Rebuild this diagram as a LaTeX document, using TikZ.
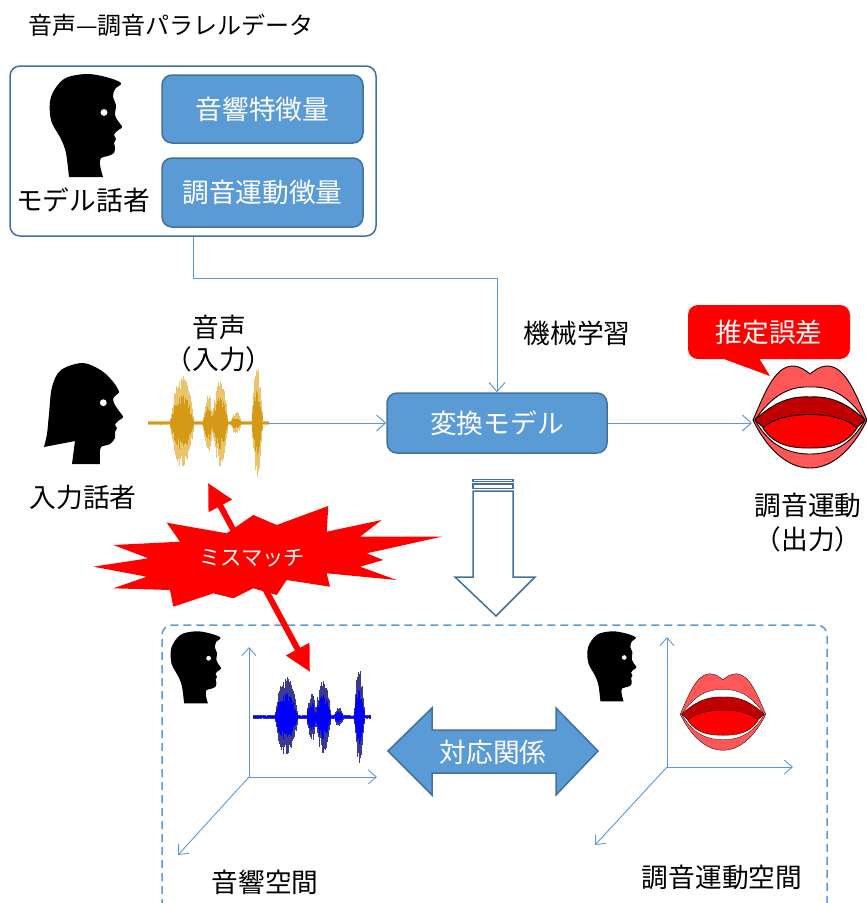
\documentclass[tikz,border=0pt]{standalone}
\usepackage{fontspec}
\newfontfamily\jpfont{Noto Sans CJK JP}
\usetikzlibrary{arrows.meta}

\definecolor{boxfill}{HTML}{5B9BD5}
\definecolor{boxedge}{HTML}{41719C}
\definecolor{linkblue}{HTML}{5B9BD5}
\definecolor{lipred}{HTML}{FF5757}
\definecolor{throat}{HTML}{C00000}
\definecolor{tongue}{HTML}{FF0000}
\definecolor{goldhaze}{HTML}{E9C46C}
\definecolor{goldcore}{HTML}{D49A16}
\definecolor{bluehaze}{HTML}{3A3A8E}
\definecolor{bluecore}{HTML}{0000FF}

% profile of a man facing right, centred on (#1,#2), scaled by #3
\newcommand\manprofile[3]{%
  \begin{scope}[shift={(#1,#2)},scale=#3]
    \fill[black] (-17,52) -- (17,52) -- plot[smooth,tension=0.55] coordinates {
      (17,52) (14,40) (15,33) (22,31) (28,28) (29,22) (28,18) (30,14) (28,10)
      (31,6) (36,2) (32,-4) (29,-10) (30,-20) (27,-28) (29,-36) (35,-42)
      (20,-48) (0,-51) (-22,-46) (-35,-28) (-35,-5) (-25,14) (-20,28) (-17,52)} -- cycle;
    \fill[white] (18,-12.5) circle (3.4);
  \end{scope}}

% profile of a woman facing right, centred on (#1,#2)
\newcommand\womanprofile[2]{%
  \begin{scope}[shift={(#1,#2)}]
    \fill[black] (-12,50) -- (16,50) -- plot[smooth,tension=0.55] coordinates {
      (16,50) (16,40) (17,33) (26,30) (31,24) (31,18) (33,14) (31,11) (34,7)
      (39,3) (35,-3) (31,-9) (29,-15) (32,-19) (35,-22) (30,-31) (18,-43)
      (-1,-51) (-23,-44) (-32,-27) (-35,0) (-37,20) (-40,33)} -- (-9,27) -- (-12,50) -- cycle;
    \fill[white] (19.3,-11.3) circle (3.4);
  \end{scope}}

% open mouth centred on (#1,#2), scaled by #3, outline width #4
\newcommand\openmouth[4]{%
  \begin{scope}[shift={(#1,#2)},scale=#3,line width=#4]
    \filldraw[fill=lipred,draw=black]
      (-57,3) .. controls (-46,-22) and (-36,-50) .. (-18,-51)
      .. controls (-9,-51) and (-4,-46) .. (0,-43)
      .. controls (4,-46) and (9,-51) .. (18,-51)
      .. controls (36,-50) and (46,-22) .. (57,3)
      .. controls (45,28) and (25,51) .. (0,51)
      .. controls (-25,51) and (-45,28) .. (-57,3) -- cycle;
    \filldraw[fill=white,draw=black]
      (-55,3) .. controls (-38,-22) and (-20,-31) .. (0,-30)
      .. controls (20,-31) and (38,-22) .. (55,3)
      .. controls (40,30) and (20,37) .. (0,37)
      .. controls (-20,37) and (-40,30) .. (-55,3) -- cycle;
    \filldraw[fill=throat,draw=black]
      (-55,3) .. controls (-35,-16) and (-18,-21) .. (0,-20)
      .. controls (18,-21) and (35,-16) .. (55,3)
      -- (45,12) .. controls (20,25) and (-20,25) .. (-45,12) -- cycle;
    \filldraw[fill=tongue,draw=black]
      (-47,11) .. controls (-30,-7) and (30,-7) .. (47,11)
      .. controls (35,30) and (15,31) .. (0,31)
      .. controls (-15,31) and (-35,30) .. (-47,11) -- cycle;
  \end{scope}}

% recorded speech trace starting at (#1,#2), scaled by #3/#4, colours #5 (outer) and #6 (core)
\newcommand\speechwave[6]{%
  \begin{scope}[shift={(#1,#2)},xscale=#3,yscale=#4]
    \pgfmathsetseed{4242}
    \foreach \t in {0,0.5,...,120}{%
      \pgfmathsetmacro\env{2.5+46*max(0,1-((\t-34)/12)^2)+28*max(0,1-((\t-60)/5)^2)+41*max(0,1-((\t-72)/8)^2)+9*max(0,1-((\t-88)/5)^2)+54*max(0,1-((\t-109)/5.5)^2)}%
      \pgfmathsetmacro\up{\env*(0.6+0.4*rnd)}%
      \pgfmathsetmacro\dn{\env*(0.6+0.4*rnd)}%
      \draw[#5,line width=0.7pt] (\t,-\up) -- (\t,\dn);
      \draw[#6,line width=0.7pt] (\t,-0.6*\up) -- (\t,0.6*\dn);
    }
  \end{scope}}

\tikzset{
  txt/.style={font=\jpfont\fontsize{26.7}{32}\selectfont, inner sep=0pt},
  titletxt/.style={font=\jpfont\fontsize{24}{28}\selectfont, inner sep=0pt},
  burstxt/.style={font=\jpfont\fontsize{21.3}{26}\selectfont, inner sep=0pt, text=white},
  featbox/.style={txt, text=white, fill=boxfill, draw=boxedge, line width=1.5pt,
    rounded corners=10pt, minimum width=201pt, minimum height=68pt},
  conn/.style={draw=linkblue, line width=1pt, -{Straight Barb[length=9pt,width=16pt]}},
  axis/.style={draw=linkblue, line width=0.9pt, -{Straight Barb[length=8pt,width=14pt]}},
  hollowarrow/.style={draw=boxedge, fill=white, line width=1.5pt, line join=miter},
}

\begin{document}
\begin{tikzpicture}[x=1pt,y=-1pt]
\useasboundingbox (0,0) rectangle (867,903);
\clip (0,0) rectangle (867,903);

% ---------- parallel corpus ----------
\node[titletxt, anchor=west] (title) at (28,25) {音声—調音パラレルデータ};
\node[draw=boxedge, line width=1.5pt, rounded corners=10pt, minimum width=366pt,
      minimum height=170pt, inner sep=0pt] (data) at (193,151) {};
\manprofile{86}{125}{1}
\node[txt] (modelspk) at (83,200) {モデル話者};
\node[featbox] (acoustic) at (262.5,109) {音響特徴量};
\node[featbox, minimum height=69pt] (articul) at (262.5,192.5) {調音運動徴量};

% ---------- conversion model ----------
\node[txt] (learn) at (577,333) {機械学習};
\node[txt, text=white, fill=boxfill, draw=boxedge, line width=1.5pt, rounded corners=10pt,
      minimum width=220pt, minimum height=60pt] (model) at (497,423) {変換モデル};
\draw[conn] (data.south) -- ++(0,42) -| (model.north);

% input speaker and speech
\womanprofile{84}{414}
\node[txt] (inspk) at (83,497) {入力話者};
\node[txt] (voice) at (219,327) {音声};
\node[txt] (voicein) at (219,359) {（入力）};
\speechwave{148}{423}{1}{1}{goldhaze}{goldcore}
\coordinate (waveend) at (268,423);
\draw[conn] (waveend) -- (model.west);

% estimated articulation
\openmouth{810}{417}{1}{0.9pt}
\coordinate (mouthin) at (752,423);
\draw[conn] (model.east) -- (mouthin);
\fill[red, rounded corners=10pt] (688,305) rectangle (850,359);
\fill[red] (713,355) -- (757,355) -- (770,376) -- cycle;
\node[txt, text=white] (error) at (769,332) {推定誤差};
\node[txt] (artout) at (808,505) {調音運動};
\node[txt] (artout2) at (808,539) {（出力）};

% ---------- spaces ----------
\draw[linkblue, line width=1.5pt, dash pattern=on 8pt off 5pt, rounded corners=10pt]
  (162,920) -- (162,625) -- (827,625) -- (827,920);

\draw[hollowarrow] (473,479.5) rectangle (513,481.5);
\draw[hollowarrow] (473,484) rectangle (513,488.5);
\draw[hollowarrow] (473,491) -- (473,577) -- (455,577) -- (496,616)
  -- (535,577) -- (513,577) -- (513,491) -- cycle;

% acoustic space
\manprofile{196}{667}{0.7}
\coordinate (ao) at (249,777);
\coordinate (ay) at (249,647);
\coordinate (ax) at (377,777);
\coordinate (az) at (178,855);
\draw[axis] (ao) -- (ay);
\draw[axis] (ao) -- (ax);
\draw[axis] (ao) -- (az);
\speechwave{253}{717}{0.975}{0.85}{bluehaze}{bluecore}
\node[txt] (acspace) at (265,882) {音響空間};

% articulatory space
\manprofile{612}{666}{0.68}
\coordinate (bo) at (667,767);
\coordinate (by) at (667,637);
\coordinate (bx) at (793,767);
\coordinate (bz) at (595,845);
\draw[axis] (bo) -- (by);
\draw[axis] (bo) -- (bx);
\draw[axis] (bo) -- (bz);
\openmouth{723}{712}{0.75}{0.3pt}
\node[txt] (arspace) at (722,877) {調音運動空間};

% correspondence
\filldraw[fill=boxfill, draw=boxedge, line width=1.5pt, line join=miter]
  (388,751) -- (432,708) -- (432,730) -- (556,730) -- (556,708) -- (598,751)
  -- (556,795) -- (556,773) -- (432,773) -- (432,795) -- cycle;
\node[txt, text=white] (corr) at (493,752) {対応関係};

% ---------- mismatch ----------
\coordinate (mmtop) at (208,483);
\coordinate (mmbot) at (310,672);
\draw[red, line width=6pt, {Triangle[length=26pt,width=25pt]}-{Triangle[length=26pt,width=25pt]}]
  (mmtop) -- (mmbot);
\fill[red] (93.3,566.7) -- (148.3,558.3) -- (113.3,545) -- (180,541.7) -- (166.7,522.7)
  -- (226.7,533.3) -- (253.3,515) -- (276.7,525) -- (328.3,506) -- (326.7,531.7)
  -- (381.7,520) -- (360,536.7) -- (441.7,536.7) -- (366.7,553.3) -- (383.3,560)
  -- (360,566.7) -- (396.7,580) -- (326.7,573.3) -- (330,586.7) -- (286.7,580)
  -- (276.7,595) -- (253.3,588.3) -- (233.3,598.3) -- (213.3,593.3) -- (173.3,606.7)
  -- (170,590) -- (113.3,588.3) -- (146.7,576.7) -- cycle;
\node[burstxt] (mismatch) at (252,558) {ミスマッチ};

\end{tikzpicture}
\end{document}
